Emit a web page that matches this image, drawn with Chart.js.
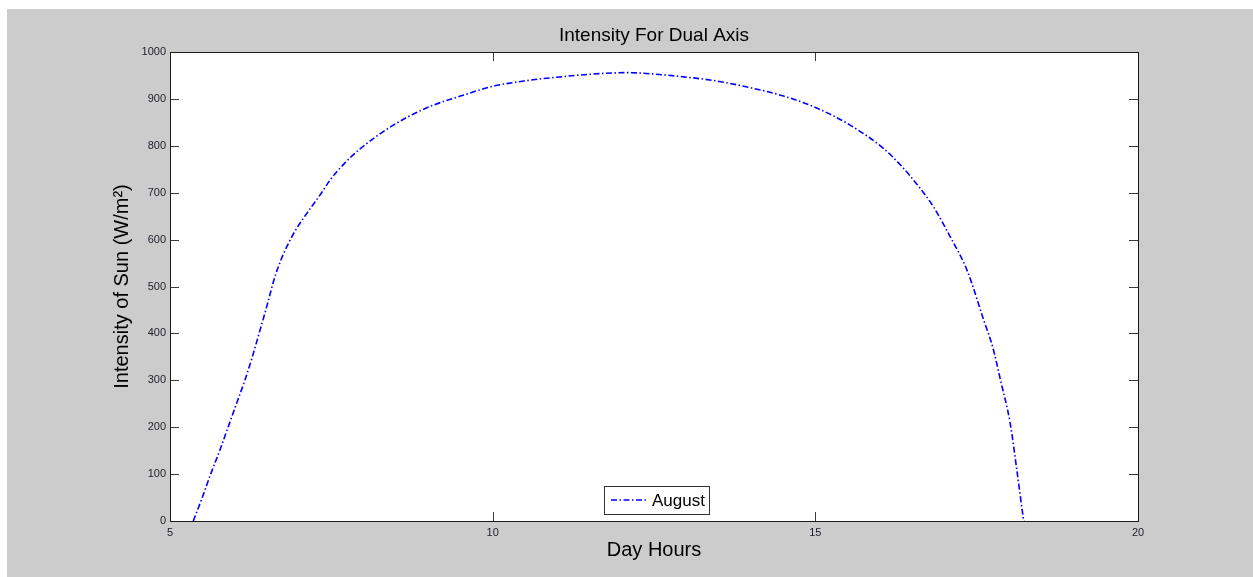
<!DOCTYPE html>
<html>
<head>
<meta charset="utf-8">
<title>Intensity For Dual Axis</title>
<script src="https://cdn.jsdelivr.net/npm/chart.js@4/dist/chart.umd.min.js"></script>
<style>
  html, body { margin: 0; padding: 0; background: #ffffff; }
  canvas { display: block; }
</style>
</head>
<body>
<canvas id="chart" width="1253" height="577"></canvas>
<script>
// Day hours (x) and sun intensity in W/m² (y) for August, dual-axis tracker
const dayHours = [
  5.36, 5.50, 5.63, 5.77, 5.90, 6.03, 6.16, 6.26, 6.32, 6.41,
  6.47, 6.54, 6.61, 6.72, 6.81, 6.95, 7.12, 7.35, 7.48, 7.70,
  7.95, 8.46, 8.98, 9.50, 10.01, 10.53, 11.05, 11.56, 12.08, 12.50,
  12.96, 13.48, 13.99, 14.51, 15.03, 15.54, 16.06, 16.32, 16.58, 16.83,
  17.09, 17.35, 17.61, 17.75, 17.87, 18.02, 18.13, 18.22, 18.23
];
const augustIntensity = [
  0, 50, 100, 150, 200, 250, 300, 343, 371, 414,
  443, 478, 514, 557, 585, 621, 656, 700, 727, 762,
  794, 844, 881, 906, 927, 939, 947, 953, 956, 953,
  947, 938, 924, 906, 880, 844, 794, 759, 717, 670,
  606, 535, 428, 370, 300, 208, 101, 9, 0
];
const seriesLabel = 'August';
const xTicks = [5, 10, 15, 20];
const yTicks = [0, 100, 200, 300, 400, 500, 600, 700, 800, 900, 1000];

const FONT = "'Liberation Sans', Arial, sans-serif";
const LINE_DASH = [6, 2.5, 1.5, 2.5];

// Figure background: grey panel with a white plotting box
const figureBackground = {
  id: 'figureBackground',
  beforeDraw(chart) {
    const { ctx, chartArea: a } = chart;
    ctx.save();
    ctx.fillStyle = '#ffffff';
    ctx.fillRect(0, 0, chart.width, chart.height);
    ctx.fillStyle = '#cccccc';
    ctx.fillRect(7, 9, chart.width - 7, chart.height - 9);
    ctx.fillStyle = '#ffffff';
    ctx.fillRect(a.left, a.top, a.right - a.left, a.bottom - a.top);
    ctx.restore();
  }
};

// Box outline with inward tick marks on all four sides
const boxAndTicks = {
  id: 'boxAndTicks',
  afterDatasetsDraw(chart) {
    const { ctx, chartArea: a, scales } = chart;
    const len = 9;
    ctx.save();
    ctx.lineWidth = 1;
    ctx.strokeStyle = '#3a3a3a';
    ctx.beginPath();
    scales.y.ticks.forEach(t => {
      const y = Math.round(scales.y.getPixelForValue(t.value)) + 0.5;
      ctx.moveTo(a.left, y); ctx.lineTo(a.left + len, y);
      ctx.moveTo(a.right, y); ctx.lineTo(a.right - len, y);
    });
    scales.x.ticks.forEach(t => {
      const x = Math.round(scales.x.getPixelForValue(t.value)) + 0.5;
      ctx.moveTo(x, a.bottom); ctx.lineTo(x, a.bottom - len);
      ctx.moveTo(x, a.top); ctx.lineTo(x, a.top + len);
    });
    ctx.stroke();
    ctx.strokeStyle = '#1a1a1a';
    ctx.strokeRect(Math.round(a.left) + 0.5, Math.round(a.top) + 0.5,
                   Math.round(a.right - a.left), Math.round(a.bottom - a.top));
    ctx.restore();
  }
};

// Legend box placed inside the axes, bottom centre
const insideLegend = {
  id: 'insideLegend',
  afterDraw(chart) {
    const { ctx, chartArea: a } = chart;
    const ds = chart.data.datasets[0];
    ctx.save();
    ctx.font = '17px ' + FONT;
    const textW = ctx.measureText(ds.label).width;
    const padL = 7, lineLen = 37, gap = 4, padR = 4, h = 28;
    const w = padL + lineLen + gap + textW + padR;
    const x0 = Math.round((a.left + a.right) / 2 - w / 2 + 2);
    const y0 = Math.round(a.bottom - 7 - h);
    ctx.fillStyle = '#ffffff';
    ctx.fillRect(x0, y0, w, h);
    ctx.strokeStyle = '#333333';
    ctx.lineWidth = 1;
    ctx.strokeRect(x0 + 0.5, y0 + 0.5, Math.round(w), h);
    const cy = y0 + h / 2;
    ctx.strokeStyle = ds.borderColor;
    ctx.lineWidth = ds.borderWidth;
    ctx.setLineDash(ds.borderDash);
    ctx.beginPath();
    ctx.moveTo(x0 + padL, cy);
    ctx.lineTo(x0 + padL + lineLen, cy);
    ctx.stroke();
    ctx.setLineDash([]);
    ctx.fillStyle = '#000000';
    ctx.textBaseline = 'middle';
    ctx.textAlign = 'left';
    ctx.fillText(ds.label, x0 + padL + lineLen + gap, cy + 1);
    ctx.restore();
  }
};

new Chart(document.getElementById('chart'), {
  type: 'scatter',
  data: {
    datasets: [{
      label: seriesLabel,
      data: dayHours.map((h, i) => ({ x: h, y: augustIntensity[i] })),
      showLine: true,
      borderColor: '#0000ff',
      backgroundColor: '#0000ff',
      borderWidth: 1.6,
      borderDash: LINE_DASH,
      pointRadius: 0,
      pointHoverRadius: 0,
      cubicInterpolationMode: 'monotone',
      fill: false
    }]
  },
  options: {
    responsive: false,
    devicePixelRatio: 1,
    animation: false,
    layout: { padding: { left: 0, top: 14, right: 115, bottom: 0 } },
    plugins: {
      legend: { display: false },
      tooltip: { enabled: false },
      title: {
        display: true,
        fullSize: false,
        text: 'Intensity For Dual Axis',
        color: '#000000',
        font: { family: FONT, size: 19, weight: 'normal', lineHeight: 1.2 },
        padding: { top: 10.4, bottom: 4.8 }
      }
    },
    scales: {
      x: {
        type: 'linear',
        min: 5, max: 20,
        afterBuildTicks(scale) { scale.ticks = xTicks.map(v => ({ value: v })); },
        afterFit(scale) { scale.height = 56; },
        grid: { display: false, drawTicks: false },
        border: { display: false },
        ticks: {
          padding: 5,
          color: '#1e1e2a',
          font: { family: FONT, size: 11 },
          maxRotation: 0,
          autoSkip: false,
          callback: v => String(v)
        },
        title: {
          display: true,
          text: 'Day Hours',
          color: '#000000',
          font: { family: FONT, size: 20, lineHeight: 1.2 },
          padding: { top: 0, bottom: 15 }
        }
      },
      y: {
        type: 'linear',
        min: 0, max: 1000,
        afterBuildTicks(scale) { scale.ticks = yTicks.map(v => ({ value: v })); },
        afterFit(scale) { scale.width = 170; },
        grid: { display: false, drawTicks: false },
        border: { display: false },
        ticks: {
          padding: 4,
          color: '#1e1e2a',
          font: { family: FONT, size: 11 },
          autoSkip: false,
          callback: v => String(v)
        },
        title: {
          display: true,
          text: 'Intensity of Sun (W/m²)',
          color: '#000000',
          font: { family: FONT, size: 20, lineHeight: 1.2 },
          padding: { top: 110, bottom: 0 }
        }
      }
    }
  },
  plugins: [figureBackground, boxAndTicks, insideLegend]
});
</script>
</body>
</html>
